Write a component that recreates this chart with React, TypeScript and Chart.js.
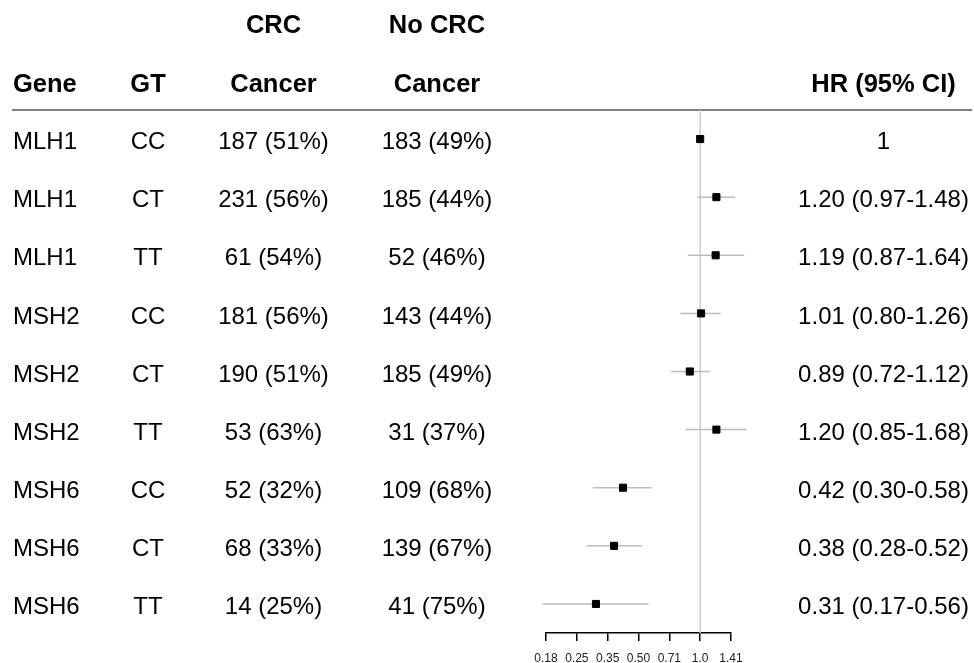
import React, { useEffect, useRef } from "react";
import { Chart, registerables } from "chart.js";

Chart.register(...registerables);

const genes = ["MLH1", "MLH1", "MLH1", "MSH2", "MSH2", "MSH2", "MSH6", "MSH6", "MSH6"];
const genotypes = ["CC", "CT", "TT", "CC", "CT", "TT", "CC", "CT", "TT"];
const crcCancer = ["187 (51%)", "231 (56%)", "61 (54%)", "181 (56%)", "190 (51%)", "53 (63%)", "52 (32%)", "68 (33%)", "14 (25%)"];
const noCrcCancer = ["183 (49%)", "185 (44%)", "52 (46%)", "143 (44%)", "185 (49%)", "31 (37%)", "109 (68%)", "139 (67%)", "41 (75%)"];
const hr = [1, 1.2, 1.19, 1.01, 0.89, 1.2, 0.42, 0.38, 0.31];
const ciLower: (number | null)[] = [null, 0.97, 0.87, 0.8, 0.72, 0.85, 0.3, 0.28, 0.17];
const ciUpper: (number | null)[] = [null, 1.48, 1.64, 1.26, 1.12, 1.68, 0.58, 0.52, 0.56];
const hrLabels = ["1", "1.20 (0.97-1.48)", "1.19 (0.87-1.64)", "1.01 (0.80-1.26)", "0.89 (0.72-1.12)", "1.20 (0.85-1.68)", "0.42 (0.30-0.58)", "0.38 (0.28-0.52)", "0.31 (0.17-0.56)"];

const headerTop = ["", "", "CRC", "No CRC", ""];
const headerBottom = ["Gene", "GT", "Cancer", "Cancer", "HR (95% CI)"];

const tickValues = [0.1768, 0.25, 0.3536, 0.5, 0.7071, 1, 1.4142];
const tickLabels = ["0.18", "0.25", "0.35", "0.50", "0.71", "1.0", "1.41"];

const FONT = "'Liberation Sans', Arial, sans-serif";

export default function App() {
  const ref = useRef<HTMLCanvasElement | null>(null);

  useEffect(() => {
    if (!ref.current) return;

    const columns = [
      { x: 13, align: "left" as CanvasTextAlign },
      { x: 148, align: "center" as CanvasTextAlign },
      { x: 273.5, align: "center" as CanvasTextAlign },
      { x: 437, align: "center" as CanvasTextAlign },
      { x: 883.5, align: "center" as CanvasTextAlign },
    ];

    const tablePlugin = {
      id: "forestTable",
      beforeDatasetsDraw(chart: any) {
        const { ctx, chartArea, scales } = chart;
        ctx.save();
        // header rule
        ctx.strokeStyle = "#555";
        ctx.lineWidth = 1.6;
        ctx.beginPath();
        ctx.moveTo(12, chartArea.top);
        ctx.lineTo(972, chartArea.top);
        ctx.stroke();
        // reference line at HR = 1
        const x1 = scales.x.getPixelForValue(1);
        ctx.strokeStyle = "#cccccc";
        ctx.lineWidth = 1.5;
        ctx.beginPath();
        ctx.moveTo(x1, chartArea.top);
        ctx.lineTo(x1, chartArea.bottom);
        ctx.stroke();
        ctx.restore();
      },
      afterDraw(chart: any) {
        const { ctx, scales } = chart;
        ctx.save();
        ctx.fillStyle = "#000";
        ctx.textBaseline = "middle";
        ctx.font = `bold 25.5px ${FONT}`;
        headerTop.forEach((t, c) => {
          if (!t) return;
          ctx.textAlign = columns[c].align;
          ctx.fillText(t, columns[c].x, 26);
        });
        headerBottom.forEach((t, c) => {
          ctx.textAlign = columns[c].align;
          ctx.fillText(t, columns[c].x, 85);
        });
        ctx.font = `24px ${FONT}`;
        const cols = [genes, genotypes, crcCancer, noCrcCancer, hrLabels];
        for (let i = 0; i < genes.length; i++) {
          const y = scales.y.getPixelForValue(i) + 3.5;
          cols.forEach((arr, c) => {
            ctx.textAlign = columns[c].align;
            ctx.fillText(arr[i], columns[c].x, y);
          });
        }
        ctx.restore();
      },
    };

    const ciDatasets = hr
      .map((_, i) => i)
      .filter((i) => ciLower[i] !== null && ciUpper[i] !== null)
      .map((i) => ({
        data: [
          { x: ciLower[i] as number, y: i },
          { x: ciUpper[i] as number, y: i },
        ],
        showLine: true,
        borderColor: "#bdbdbd",
        borderWidth: 1.5,
        pointRadius: 0,
        order: 2,
        clip: false as any,
      }));

    const chart = new Chart(ref.current, {
      type: "scatter",
      data: {
        datasets: [
          {
            data: hr.map((v, i) => ({ x: v, y: i })),
            pointStyle: "rect",
            pointRadius: 5,
            backgroundColor: "#000",
            borderColor: "#000",
            borderWidth: 1,
            order: 1,
            clip: false as any,
          },
          ...ciDatasets,
        ] as any,
      },
      options: {
        animation: false,
        responsive: false,
        maintainAspectRatio: false,
        devicePixelRatio: 1,
        layout: { padding: { left: 546, right: 243, top: 110, bottom: 0 } },
        plugins: { legend: { display: false }, tooltip: { enabled: false } },
        scales: {
          x: {
            type: "logarithmic",
            min: tickValues[0],
            max: tickValues[tickValues.length - 1],
            afterBuildTicks: (scale: any) => {
              scale.ticks = tickValues.map((v) => ({ value: v }));
            },
            afterFit: (scale: any) => {
              scale.height = 30;
            },
            ticks: {
              autoSkip: false,
              maxRotation: 0,
              minRotation: 0,
              padding: 10,
              color: "#222",
              font: { family: FONT, size: 12 },
              callback: (_v: any, i: number) => tickLabels[i],
            },
            grid: {
              drawOnChartArea: false,
              drawTicks: true,
              tickLength: 8,
              color: "#000",
              lineWidth: 1.5,
            },
            border: { display: true, color: "#000", width: 1.5 },
          },
          y: {
            type: "linear",
            display: false,
            reverse: true,
            min: -0.5,
            max: 8.5,
          },
        },
      },
      plugins: [tablePlugin],
    });

    return () => chart.destroy();
  }, []);

  return (
    <div style={{ position: "absolute", left: 0, top: 0, width: 974, height: 663, background: "#fff" }}>
      <canvas ref={ref} width={974} height={663} style={{ display: "block" }} />
    </div>
  );
}
